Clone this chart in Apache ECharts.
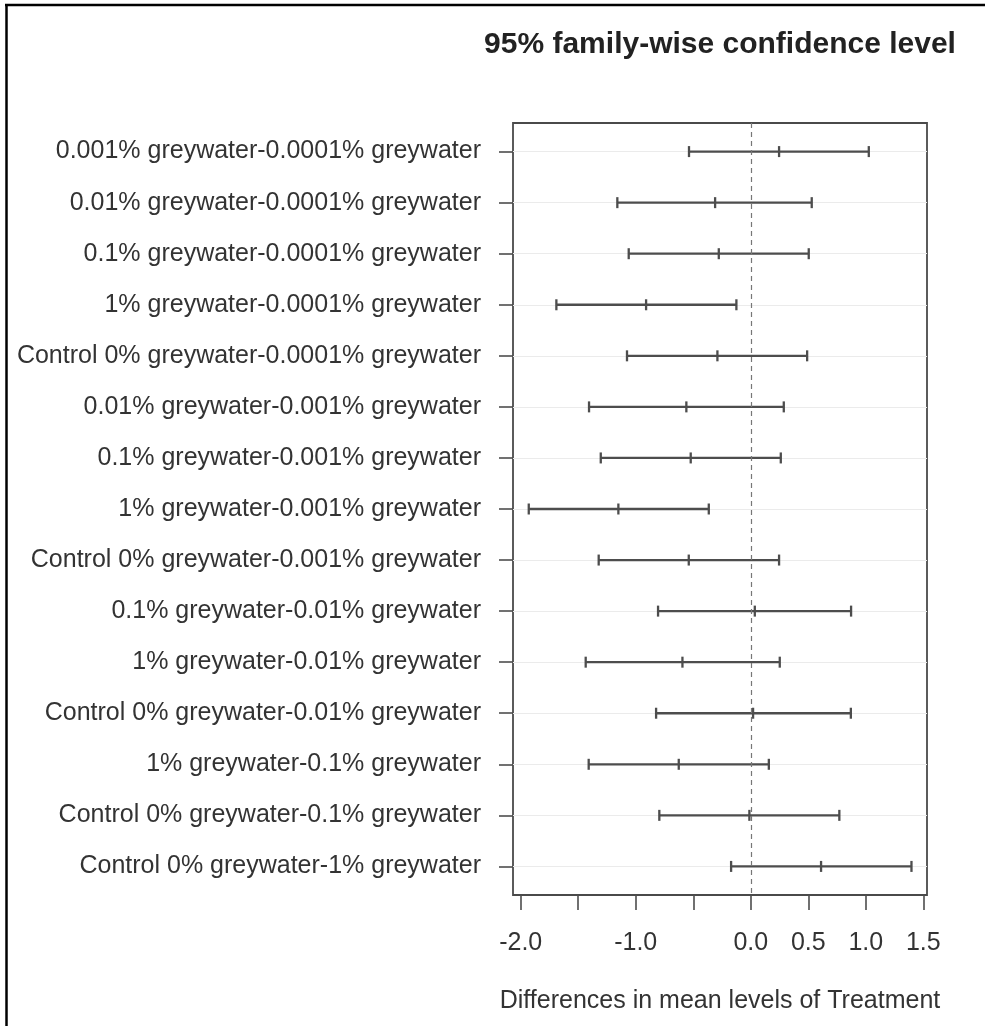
<!DOCTYPE html>
<html>
<head>
<meta charset="utf-8">
<title>95% family-wise confidence level</title>
<script src="https://cdn.jsdelivr.net/npm/echarts@6/dist/echarts.min.js"></script>
<style>
  html, body { margin: 0; padding: 0; background: #fff; }
  #chart { width: 985px; height: 1026px; }
</style>
</head>
<body>
<div id="chart"></div>
<script>
// comparisons, top to bottom
const comparisons = [
  '0.001% greywater-0.0001% greywater',
  '0.01% greywater-0.0001% greywater',
  '0.1% greywater-0.0001% greywater',
  '1% greywater-0.0001% greywater',
  'Control 0% greywater-0.0001% greywater',
  '0.01% greywater-0.001% greywater',
  '0.1% greywater-0.001% greywater',
  '1% greywater-0.001% greywater',
  'Control 0% greywater-0.001% greywater',
  '0.1% greywater-0.01% greywater',
  '1% greywater-0.01% greywater',
  'Control 0% greywater-0.01% greywater',
  '1% greywater-0.1% greywater',
  'Control 0% greywater-0.1% greywater',
  'Control 0% greywater-1% greywater'
];
const lwr  = [-0.537, -1.160, -1.061, -1.690, -1.076, -1.406, -1.304, -1.930, -1.322, -0.806, -1.435, -0.823, -1.409, -0.795, -0.171];
const diff = [ 0.246, -0.310, -0.278, -0.910, -0.290, -0.560, -0.522, -1.151, -0.539,  0.035, -0.594,  0.020, -0.626, -0.012,  0.611];
const upr  = [ 1.026,  0.530,  0.504, -0.125,  0.490,  0.287,  0.261, -0.365,  0.246,  0.872,  0.252,  0.870,  0.157,  0.770,  1.397];

const xTicks = [-2, -1.5, -1, -0.5, 0, 0.5, 1, 1.5];
const xTickLabels = [-2, -1, 0, 0.5, 1, 1.5];
const rowPos = comparisons.map((c, i) => i + 1);

const font = '"Liberation Sans", Arial, sans-serif';
const grey = '#4d4d4d';

const chart = echarts.init(document.getElementById('chart'));

chart.setOption({
  animation: false,
  backgroundColor: '#fff',
  textStyle: {fontFamily: font},
  grid: {
    left: 513, right: 58, top: 123, bottom: 131,
    show: true, borderColor: '#4a4a4a', borderWidth: 1.8, backgroundColor: 'transparent'
  },
  graphic: [
    {type: 'line', shape: {x1: 5, y1: 5, x2: 985, y2: 5}, style: {stroke: '#000', lineWidth: 2.5}},
    {type: 'line', shape: {x1: 6.5, y1: 4, x2: 6.5, y2: 1026}, style: {stroke: '#000', lineWidth: 2.5}},
    {
      type: 'text', x: 720, y: 45,
      style: {
        text: '95% family-wise confidence level', fontFamily: font, fontSize: 30,
        fontWeight: 'bold', fill: '#222', align: 'center', verticalAlign: 'middle'
      }
    }
  ],
  xAxis: {
    type: 'value',
    min: -2.067, max: 1.532,
    name: 'Differences in mean levels of Treatment',
    nameLocation: 'middle',
    nameGap: 94,
    nameTextStyle: {fontSize: 25, color: '#333', fontFamily: font},
    axisLine: {show: false, onZero: false},
    axisTick: {show: true, length: 15, customValues: xTicks, lineStyle: {color: grey, width: 1.6}},
    axisLabel: {
      customValues: xTickLabels, margin: 36, fontSize: 25, color: '#333', fontFamily: font,
      formatter: v => v.toFixed(1)
    },
    splitLine: {show: false}
  },
  yAxis: {
    type: 'value',
    inverse: true,
    min: 0.44, max: 15.56,
    axisLine: {show: false, onZero: false},
    axisTick: {show: true, length: 14, customValues: rowPos, lineStyle: {color: grey, width: 1.6}},
    axisLabel: {
      customValues: rowPos, margin: 32, fontSize: 25, color: '#333', fontFamily: font,
      formatter: v => comparisons[Math.round(v) - 1] || ''
    },
    splitLine: {show: true, lineStyle: {color: '#ebebeb', width: 1}}
  },
  series: [{
    type: 'custom',
    data: comparisons.map((c, i) => [rowPos[i], lwr[i], diff[i], upr[i]]),
    encode: {x: [1, 2, 3], y: 0},
    renderItem(params, api) {
      const y = api.value(0);
      const lo = api.coord([api.value(1), y]);
      const mid = api.coord([api.value(2), y]);
      const hi = api.coord([api.value(3), y]);
      const st = {stroke: grey, lineWidth: 2.3};
      const cap = p => ({type: 'line', shape: {x1: p[0], y1: p[1] - 5.5, x2: p[0], y2: p[1] + 5.5}, style: st});
      return {
        type: 'group',
        children: [
          {type: 'line', shape: {x1: lo[0], y1: lo[1], x2: hi[0], y2: hi[1]}, style: st},
          cap(lo), cap(mid), cap(hi)
        ]
      };
    },
    markLine: {
      silent: true,
      symbol: 'none',
      label: {show: false},
      lineStyle: {type: [5, 4], color: '#777', width: 1.2},
      data: [{xAxis: 0}]
    }
  }]
});
</script>
</body>
</html>
